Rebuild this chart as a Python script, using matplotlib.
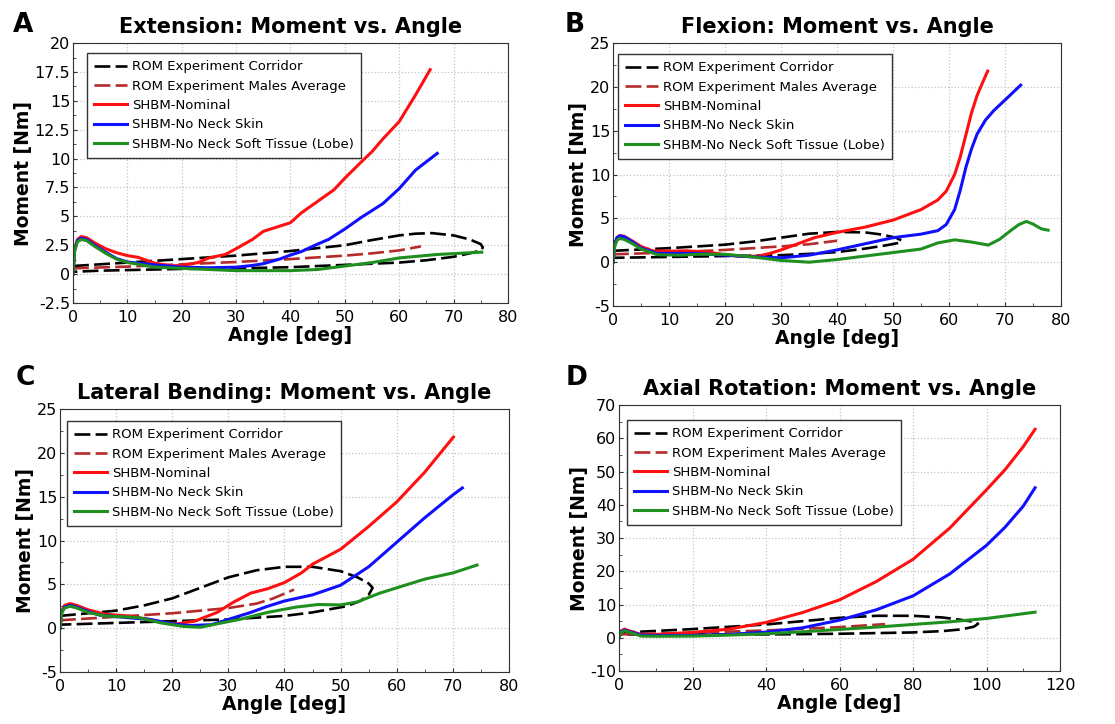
import matplotlib
matplotlib.use("Agg")
import matplotlib.pyplot as plt
from matplotlib.ticker import MultipleLocator, FormatStrFormatter

plt.rcParams['font.family'] = ['DejaVu Sans']
plt.rcParams['axes.unicode_minus'] = False

# ---- A: extension ----
extCorrX = [0, 5, 10, 20, 30, 40, 50, 55, 60, 63, 66, 70, 73, 75, 75.4, 75, 73, 70, 65, 60, 50, 40, 30, 20, 10, 5, 0]
extCorrY = [0.7, 0.85, 1.0, 1.3, 1.6, 2.0, 2.5, 2.95, 3.35, 3.5, 3.55, 3.35, 3.0, 2.6, 2.3, 2.05, 1.8, 1.5, 1.2, 1.0, 0.8, 0.6, 0.5, 0.45, 0.35, 0.3, 0.2]
extAvgX = [0, 10, 20, 30, 40, 50, 55, 60, 64]
extAvgY = [0.5, 0.65, 0.85, 1.05, 1.3, 1.6, 1.8, 2.05, 2.4]
extNomX = [0, 0.3, 0.8, 1.5, 2.5, 4, 6, 8, 10, 12, 13.5, 15, 18, 20, 23, 25, 28, 30, 33, 35, 37, 40, 42, 45, 48, 50, 53, 55, 57, 60, 63, 65.7]
extNomY = [0, 2.2, 3.0, 3.25, 3.15, 2.7, 2.2, 1.85, 1.6, 1.45, 1.2, 0.95, 0.72, 0.75, 1.0, 1.4, 1.7, 2.2, 3.0, 3.7, 4.0, 4.45, 5.3, 6.3, 7.3, 8.3, 9.7, 10.6, 11.7, 13.2, 15.5, 17.7]
extSkinX = [0, 0.3, 0.8, 1.5, 2.5, 4, 6, 8, 10, 12, 15, 20, 25, 30, 33, 35, 38, 40, 42, 45, 47, 50, 53, 55, 57, 60, 63, 67]
extSkinY = [0, 2.1, 2.9, 3.1, 3.0, 2.5, 1.9, 1.35, 1.05, 0.95, 0.8, 0.6, 0.55, 0.6, 0.75, 0.9, 1.3, 1.65, 1.95, 2.6, 3.0, 3.9, 4.9, 5.5, 6.1, 7.4, 9.0, 10.45]
extLobeX = [0, 0.3, 0.8, 1.5, 2.5, 4, 6, 8, 10, 12, 15, 20, 25, 30, 40, 45, 50, 55, 60, 67, 75.2]
extLobeY = [0, 2.0, 2.8, 3.0, 2.9, 2.4, 1.8, 1.3, 1.0, 0.85, 0.6, 0.5, 0.4, 0.3, 0.3, 0.4, 0.7, 1.0, 1.4, 1.7, 1.9]

# ---- B: flexion ----
flxCorrX = [0, 10, 20, 25, 30, 35, 40, 45, 48, 50.5, 51.6, 51, 49, 45, 40, 35, 30, 20, 10, 0]
flxCorrY = [1.3, 1.6, 2.0, 2.35, 2.8, 3.25, 3.45, 3.4, 3.15, 2.8, 2.45, 2.2, 1.95, 1.55, 1.15, 0.95, 0.8, 0.7, 0.6, 0.5]
flxAvgX = [0, 10, 20, 30, 35, 40]
flxAvgY = [0.9, 1.1, 1.4, 1.8, 2.05, 2.45]
flxNomX = [0, 0.3, 0.7, 1.2, 2, 3.5, 5, 7, 10, 13, 17, 20, 23, 26, 28, 30, 33, 36, 40, 45, 50, 55, 58, 59.5, 61, 62, 63, 64, 65, 66, 66.9]
flxNomY = [0, 2.0, 2.8, 3.05, 2.95, 2.4, 1.8, 1.3, 1.25, 1.3, 1.15, 0.85, 0.65, 0.7, 1.0, 1.4, 2.1, 2.8, 3.4, 4.0, 4.8, 6.0, 7.1, 8.1, 10.0, 12.0, 14.5, 17.0, 19.0, 20.5, 21.8]
flxSkinX = [0, 0.3, 0.7, 1.2, 2, 3.5, 5, 8, 12, 15, 20, 25, 30, 35, 40, 45, 50, 55, 58, 59.5, 61, 62, 63, 64, 65, 66.5, 68, 70, 72.8]
flxSkinY = [0, 2.0, 2.8, 3.0, 2.9, 2.3, 1.6, 1.0, 1.0, 1.0, 0.8, 0.6, 0.5, 0.8, 1.4, 2.1, 2.8, 3.2, 3.6, 4.3, 6.0, 8.2, 10.8, 12.9, 14.6, 16.2, 17.3, 18.5, 20.2]
flxLobeX = [0, 0.3, 0.7, 1.2, 2, 3.5, 5, 8, 12, 15, 20, 25, 30, 35, 40, 45, 50, 55, 58, 61, 64, 67, 69, 71, 72.5, 73.8, 75, 76.5, 77.7]
flxLobeY = [0, 1.8, 2.5, 2.7, 2.6, 2.1, 1.5, 0.85, 0.8, 0.9, 0.9, 0.6, 0.2, 0.0, 0.3, 0.7, 1.1, 1.5, 2.2, 2.55, 2.3, 1.95, 2.6, 3.6, 4.3, 4.65, 4.35, 3.8, 3.65]

# ---- C: lateral bending ----
latCorrX = [0, 10, 15, 20, 25, 30, 35, 40, 45, 50, 53, 55, 55.7, 55, 53.5, 51, 45, 40, 30, 20, 10, 0]
latCorrY = [1.4, 2.0, 2.6, 3.4, 4.6, 5.8, 6.6, 7.0, 7.0, 6.5, 5.8, 5.1, 4.6, 3.8, 3.1, 2.5, 1.8, 1.4, 1.0, 0.8, 0.6, 0.4]
latAvgX = [0, 10, 20, 30, 35, 38, 41.7]
latAvgY = [0.9, 1.3, 1.7, 2.3, 2.8, 3.4, 4.4]
latNomX = [0, 0.3, 0.8, 1.8, 3, 5, 8, 12, 16, 19, 21, 24, 28, 31, 34, 37, 40, 43, 45, 50, 55, 60, 65, 70.1]
latNomY = [0, 1.9, 2.6, 2.8, 2.6, 2.1, 1.6, 1.4, 1.0, 0.6, 0.5, 0.8, 1.8, 3.0, 4.0, 4.5, 5.2, 6.3, 7.3, 9.0, 11.6, 14.4, 17.8, 21.8]
latSkinX = [0, 0.3, 0.8, 1.8, 3, 5, 7, 12, 16, 20, 23, 27, 30, 34, 37, 40, 45, 50, 55, 60, 65, 70, 71.7]
latSkinY = [0, 1.8, 2.4, 2.6, 2.4, 1.9, 1.5, 1.2, 1.0, 0.5, 0.3, 0.4, 1.0, 1.8, 2.5, 3.1, 3.8, 4.9, 7.0, 9.8, 12.6, 15.2, 16.0]
latLobeX = [0, 0.3, 0.8, 1.8, 3, 5, 8, 14, 18, 22, 25, 28, 32, 37, 42, 46, 50, 53, 57, 61, 65, 70, 74.3]
latLobeY = [0, 1.7, 2.3, 2.5, 2.3, 1.8, 1.4, 1.2, 0.6, 0.2, 0.1, 0.5, 1.0, 1.8, 2.4, 2.7, 2.65, 3.0, 4.0, 4.8, 5.6, 6.3, 7.2]

# ---- D: axial rotation ----
axCorrX = [0, 20, 40, 50, 60, 70, 80, 88, 93, 96.5, 97.7, 96.5, 93, 88, 80, 70, 60, 40, 20, 0]
axCorrY = [1.5, 2.6, 4.0, 5.0, 6.0, 6.6, 6.6, 6.1, 5.4, 4.8, 4.2, 3.3, 2.5, 2.0, 1.6, 1.4, 1.2, 1.0, 1.0, 1.0]
axAvgX = [0, 20, 40, 60, 72.4]
axAvgY = [1.0, 1.5, 2.2, 3.2, 4.1]
axNomX = [0, 0.5, 1.5, 3, 6, 10, 20, 30, 40, 50, 60, 70, 80, 90, 100, 105, 110, 113.2]
axNomY = [0, 2.0, 2.6, 2.0, 1.0, 1.0, 1.6, 2.6, 4.6, 7.6, 11.4, 16.9, 23.6, 33.0, 44.5, 50.5, 57.5, 62.7]
axSkinX = [0, 0.5, 1.5, 3, 6, 10, 20, 30, 40, 50, 60, 70, 80, 90, 100, 105, 110, 113.2]
axSkinY = [0, 1.8, 2.3, 1.8, 0.8, 0.7, 0.7, 1.0, 1.7, 3.0, 5.3, 8.4, 12.6, 19.2, 27.8, 33.2, 39.6, 45.1]
axLobeX = [0, 0.5, 1.5, 3, 6, 10, 20, 30, 40, 50, 60, 70, 80, 90, 100, 107, 113.2]
axLobeY = [0, 1.6, 2.1, 1.6, 0.5, 0.45, 0.5, 0.8, 1.2, 1.8, 2.5, 3.2, 4.0, 4.8, 5.8, 6.8, 7.7]

labels = ["ROM Experiment Corridor", "ROM Experiment Males Average",
          "SHBM-Nominal", "SHBM-No Neck Skin", "SHBM-No Neck Soft Tissue (Lobe)"]

# letter, title, axes rect, x range/steps, y range/steps, letter pos (px), legend offset (px)
panels = [
    ("A", "Extension: Moment vs. Angle", [0.0655, 0.5815, 0.390, 0.359], (0, 80), 10, 5, (-2.5, 20), 2.5, 1.25, (23, 25), (14, 10),
     (extCorrX, extCorrY), (extAvgX, extAvgY), (extNomX, extNomY), (extSkinX, extSkinY), (extLobeX, extLobeY)),
    ("B", "Flexion: Moment vs. Angle", [0.5498, 0.5773, 0.4018, 0.3633], (0, 80), 10, 5, (-5, 25), 5, 2.5, (575, 25), (5, 11),
     (flxCorrX, flxCorrY), (flxAvgX, flxAvgY), (flxNomX, flxNomY), (flxSkinX, flxSkinY), (flxLobeX, flxLobeY)),
    ("C", "Lateral Bending: Moment vs. Angle", [0.0538, 0.0718, 0.4027, 0.3633], (0, 80), 10, 5, (-5, 25), 5, 2.5, (25, 378), (7, 12),
     (latCorrX, latCorrY), (latAvgX, latAvgY), (latNomX, latNomY), (latSkinX, latSkinY), (latLobeX, latLobeY)),
    ("D", "Axial Rotation: Moment vs. Angle", [0.5552, 0.0732, 0.3955, 0.3674], (0, 120), 20, 10, (-10, 70), 10, 5, (577, 378), (8, 15),
     (axCorrX, axCorrY), (axAvgX, axAvgY), (axNomX, axNomY), (axSkinX, axSkinY), (axLobeX, axLobeY)),
]

W, H = 1115, 724
fig = plt.figure(figsize=(W / 100, H / 100), dpi=100)

for (letter, title, rect, xlim, xmaj, xmin, ylim, ymaj, ymin, lpos, loff,
     corr, avg, nom, skin, lobe) in panels:
    ax = fig.add_axes(rect)
    ax.plot(*corr, color="black", lw=1.9, ls=(0, (6, 2)), label=labels[0])
    ax.plot(*avg, color="#b52a2a", lw=1.9, ls=(0, (6, 2)), label=labels[1])
    ax.plot(*nom, color="#ff1010", lw=2.2, label=labels[2])
    ax.plot(*skin, color="#1010ff", lw=2.2, label=labels[3])
    ax.plot(*lobe, color="#1f8f1f", lw=2.2, label=labels[4])

    ax.set_xlim(*xlim)
    ax.set_ylim(*ylim)
    ax.xaxis.set_major_locator(MultipleLocator(xmaj))
    ax.xaxis.set_minor_locator(MultipleLocator(xmin))
    ax.yaxis.set_major_locator(MultipleLocator(ymaj))
    ax.yaxis.set_minor_locator(MultipleLocator(ymin))
    ax.yaxis.set_major_formatter(FormatStrFormatter("%g"))
    ax.tick_params(which="both", direction="in", colors="#333333", labelcolor="black", labelsize=11.5)
    ax.tick_params(which="major", length=3)
    ax.tick_params(which="minor", length=2)
    ax.tick_params(axis="x", pad=5)
    ax.tick_params(axis="y", pad=2)
    ax.grid(True, which="major", color="#c4c4c4", ls=":", lw=0.9)
    for s in ax.spines.values():
        s.set_color("#333333")
    ax.set_axisbelow(True)

    ax.set_title(title, fontsize=15, fontweight="bold", pad=7)
    ax.set_xlabel("Angle [deg]", fontsize=13.5, fontweight="bold", labelpad=1)
    ax.set_ylabel("Moment [Nm]", fontsize=13.5, fontweight="bold", labelpad=1)

    # legend box placed a few pixels in from the top-left corner
    axw = rect[2] * W
    axh = rect[3] * H
    leg = ax.legend(loc="upper left", bbox_to_anchor=(loff[0] / axw, 1 - loff[1] / axh),
                    borderaxespad=0, fontsize=9.5,
                    handlelength=2.5, handletextpad=0.35, labelspacing=0.48,
                    borderpad=0.55, fancybox=False, framealpha=1)
    leg.get_frame().set_edgecolor("#333333")
    leg.get_frame().set_linewidth(1.0)

    fig.text(lpos[0] / W, 1 - lpos[1] / H, letter, fontsize=19, fontweight="bold",
             ha="center", va="center")

fig.savefig("out.png", dpi=100)
